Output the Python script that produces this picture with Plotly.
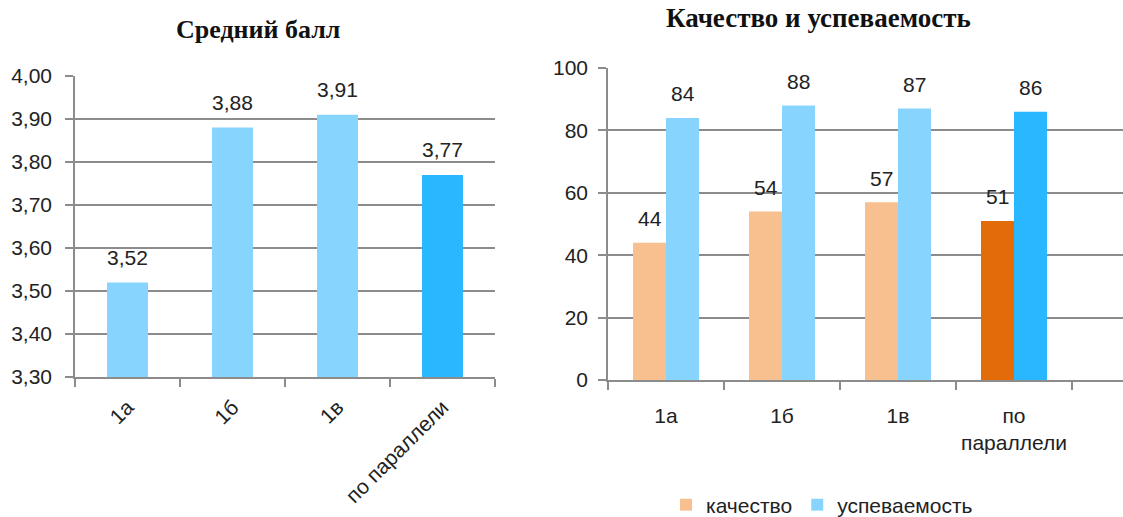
import plotly.graph_objects as go

categories = ["1а", "1б", "1в", "по параллели"]
avg_score = [3.52, 3.88, 3.91, 3.77]
quality = [44, 54, 57, 51]
progress = [84, 88, 87, 86]
right_tick_labels = ["1а", "1б", "1в", "по<br>параллели"]
series_names = ["качество", "успеваемость"]

FONT = "Liberation Sans"
GRID = "#8c8c8c"
light_blue = "#87D5FF"
bright_blue = "#29B7FF"
peach = "#F9C08F"
orange = "#E36C0A"

W, H = 1123, 517


def py(y_top):
    """pixel-from-top -> paper fraction (from bottom)"""
    return 1 - y_top / H


fig = go.Figure()

fig.add_trace(go.Bar(
    x=categories, y=avg_score, xaxis="x", yaxis="y",
    marker=dict(color=[light_blue, light_blue, light_blue, bright_blue], line=dict(width=0)),
    width=0.39, showlegend=False, offsetgroup="L",
))

fig.add_trace(go.Bar(
    x=categories, y=quality, xaxis="x2", yaxis="y2", name=series_names[0],
    marker=dict(color=[peach, peach, peach, orange], line=dict(width=0)),
    showlegend=True,
))
fig.add_trace(go.Bar(
    x=categories, y=progress, xaxis="x2", yaxis="y2", name=series_names[1],
    marker=dict(color=[light_blue, light_blue, light_blue, bright_blue], line=dict(width=0)),
    showlegend=True,
))

annotations = []
for c, v in zip(categories, avg_score):
    annotations.append(dict(x=c, y=v, xref="x", yref="y", text=f"{v:.2f}".replace(".", ","),
                            showarrow=False, yshift=25, font=dict(size=21, color="#222")))
for c, v in zip(categories, quality):
    annotations.append(dict(x=c, y=v, xref="x2", yref="y2", text=str(v), xshift=-16.5,
                            showarrow=False, yshift=24, font=dict(size=21, color="#222")))
for c, v in zip(categories, progress):
    annotations.append(dict(x=c, y=v, xref="x2", yref="y2", text=str(v), xshift=16.5,
                            showarrow=False, yshift=24, font=dict(size=21, color="#222")))

annotations.append(dict(text="<b>Средний балл</b>", x=258 / W, y=py(29), xref="paper", yref="paper",
                        xanchor="center", yanchor="middle",
                        showarrow=False, font=dict(family="Liberation Serif", size=26, color="#111")))
annotations.append(dict(text="<b>Качество и успеваемость</b>", x=818 / W, y=py(18), xref="paper", yref="paper",
                        xanchor="center", yanchor="middle",
                        showarrow=False, font=dict(family="Liberation Serif", size=27, color="#111")))

axis_common = dict(showline=True, linecolor=GRID, linewidth=1.5, ticks="outside",
                   tickcolor=GRID, tickwidth=1.5, ticklen=8, automargin=False,
                   tickfont=dict(size=21, color="#222"), zeroline=False)

fig.update_layout(
    template="none",
    width=W, height=H,
    margin=dict(l=0, r=0, t=0, b=0, pad=0, autoexpand=False),
    paper_bgcolor="white", plot_bgcolor="white",
    separators=", ",
    font=dict(family=FONT, color="#222"),
    barmode="group", bargap=0.431, bargroupgap=0,
    xaxis=dict(domain=[75 / W, 495 / W], anchor="y", type="category",
               tickangle=-45, tickson="boundaries", ticklabelstandoff=8,
               showgrid=False, range=[-0.5, 3.5], **axis_common),
    yaxis=dict(domain=[py(377), py(76)], anchor="x", range=[3.30, 4.00],
               dtick=0.1, tickformat=".2f", showgrid=True, gridcolor=GRID, gridwidth=1.5,
               ticklabelstandoff=9, **axis_common),
    xaxis2=dict(domain=[608 / W, 1.0], anchor="y2", type="category",
                tickson="boundaries", tickvals=categories, ticktext=right_tick_labels,
                ticklabelstandoff=16, showgrid=False,
                range=[-0.5, (1123 - 608) / 116 - 0.5], **axis_common),
    yaxis2=dict(domain=[py(380), py(68)], anchor="x2", range=[0, 100],
                dtick=20, showgrid=True, gridcolor=GRID, gridwidth=1.5,
                ticklabelstandoff=6, **axis_common),
    legend=dict(orientation="h", x=822 / W, xanchor="center", y=py(505), yanchor="middle",
                font=dict(size=21, color="#222"), traceorder="normal",
                bgcolor="rgba(0,0,0,0)"),
    annotations=annotations,
)

post = (
    "document.documentElement.style.margin='0';"
    "document.documentElement.style.overflow='hidden';"
    "document.body.style.margin='0';document.body.style.padding='0';"
    "document.body.style.overflow='hidden';"
    "document.body.style.height='517px';"
)
fig.write_html("out.html", config={"displayModeBar": False}, post_script=post)
